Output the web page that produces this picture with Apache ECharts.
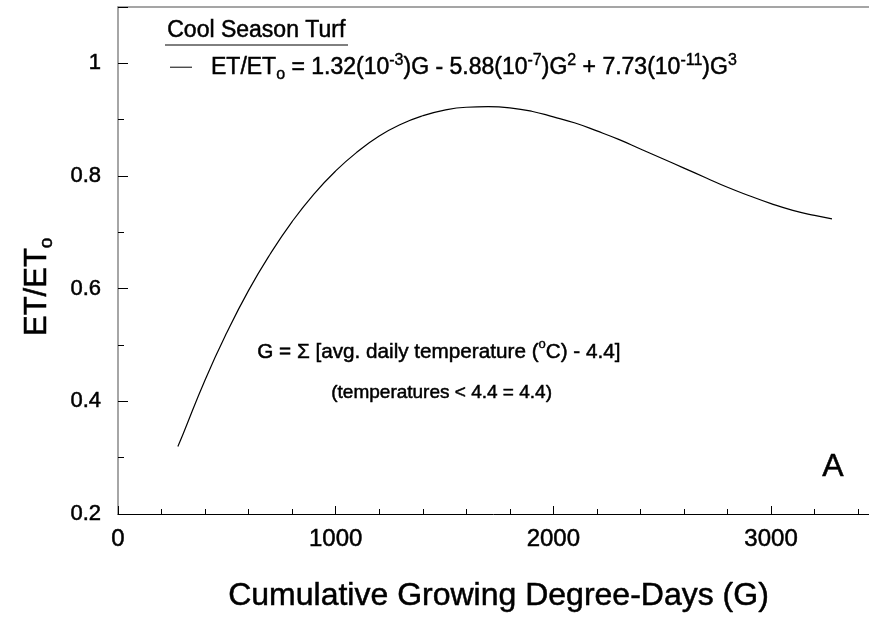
<!DOCTYPE html>
<html>
<head>
<meta charset="utf-8">
<script src="https://cdn.jsdelivr.net/npm/echarts@6/dist/echarts.min.js"></script>
<style>
html,body{margin:0;padding:0;background:#fff;}
#chart{width:869px;height:622px;}
</style>
</head>
<body>
<div id="chart"></div>
<script>
// Cumulative growing degree-days (G)
var gddValues = [275, 300, 400, 500, 600, 700, 800, 900, 1000, 1100, 1200, 1300, 1400, 1500, 1600, 1700, 1800, 1900, 2000, 2100, 2200, 2300, 2400, 2500, 2600, 2700, 2800, 2900, 3000, 3100, 3200, 3280];
// ET/ETo
var etRatio = [0.320, 0.343, 0.438, 0.522, 0.597, 0.662, 0.719, 0.768, 0.809, 0.843, 0.871, 0.892, 0.907, 0.917, 0.922, 0.923, 0.921, 0.915, 0.905, 0.894, 0.880, 0.865, 0.848, 0.831, 0.814, 0.797, 0.780, 0.765, 0.751, 0.739, 0.730, 0.724];
var seriesName = 'Cool Season Turf';
var xTicks = [0, 1000, 2000, 3000];
var yTicks = [0.2, 0.4, 0.6, 0.8, 1];

var FONT = 'Liberation Sans, Arial, Helvetica, sans-serif';
var points = gddValues.map(function (g, i) { return [g, etRatio[i]]; });
// outline used to thicken graphic text strokes
var thick = {stroke: '#000', lineWidth: 0.5};

var chart = echarts.init(document.getElementById('chart'), null, {renderer: 'canvas'});
var option = {
  backgroundColor: '#fff',
  animation: false,
  textStyle: {fontFamily: FONT, color: '#000'},
  grid: {left: 118, top: 7, right: 0, bottom: 108, containLabel: false},
  xAxis: [{
    type: 'value', min: 0, max: 3450, interval: 1000,
    axisLine: {show: true, onZero: false, lineStyle: {color: '#000', width: 1}},
    axisTick: {show: true, inside: true, length: 8, lineStyle: {color: '#000', width: 1}},
    minorTick: {show: true, splitNumber: 5, length: 5, lineStyle: {color: '#000', width: 1}},
    splitLine: {show: false},
    axisLabel: {show: true, color: '#000', fontFamily: FONT, fontSize: 24, margin: 13, showMaxLabel: false,
      textBorderColor: '#000', textBorderWidth: 0.5,
      formatter: function (v) { return xTicks.indexOf(v) >= 0 ? String(v) : ''; }},
    name: 'Cumulative Growing Degree-Days (G)',
    nameLocation: 'middle', nameGap: 66,
    nameTextStyle: {fontFamily: FONT, fontSize: 32, color: '#000', textBorderColor: '#000', textBorderWidth: 0.5, padding: [0, 0, 0, 10]}
  }, {
    type: 'value', position: 'top', min: 0, max: 3450,
    axisLine: {show: true, onZero: false, lineStyle: {color: '#888', width: 1.5}},
    axisTick: {show: false}, axisLabel: {show: false}, splitLine: {show: false}
  }],
  yAxis: {
    type: 'value', min: 0.2, max: 1.1, interval: 0.2,
    axisLine: {show: true, onZero: false, lineStyle: {color: '#888', width: 1.5}},
    axisTick: {show: true, inside: true, length: 10, lineStyle: {color: '#000', width: 1}},
    minorTick: {show: true, splitNumber: 2, length: 6, lineStyle: {color: '#000', width: 1}},
    splitLine: {show: false},
    axisLabel: {show: true, color: '#000', fontFamily: FONT, fontSize: 22, margin: 17, showMaxLabel: false,
      textBorderColor: '#000', textBorderWidth: 0.5,
      formatter: function (v) {
        for (var i = 0; i < yTicks.length; i++) { if (Math.abs(yTicks[i] - v) < 1e-6) return String(yTicks[i]); }
        return '';
      }}
  },
  legend: {
    show: true, left: 170, top: 52, padding: 0,
    icon: 'rect', itemWidth: 22, itemHeight: 1,
    data: [seriesName],
    formatter: function () {
      return '{pad| }{n|ET/ET}{sub|o}{n| = 1.32(10}{sup|-3}{n|)G - 5.88(10}{sup|-7}{n|)G}{sup|2}{n| + 7.73(10}{sup|-11}{n|)G}{sup|3}';
    },
    textStyle: {
      fontFamily: FONT, color: '#000', fontSize: 23,
      rich: {
        pad: {width: 14, fontSize: 23, lineHeight: 30},
        n: {fontFamily: FONT, fontSize: 23, lineHeight: 30, color: '#000', verticalAlign: 'middle', textBorderColor: '#000', textBorderWidth: 0.5},
        sup: {fontFamily: FONT, fontSize: 16, lineHeight: 15, color: '#000', verticalAlign: 'top', textBorderColor: '#000', textBorderWidth: 0.4},
        sub: {fontFamily: FONT, fontSize: 16, lineHeight: 13, color: '#000', verticalAlign: 'bottom', textBorderColor: '#000', textBorderWidth: 0.4}
      }
    }
  },
  graphic: [
    {type: 'text', left: 167, top: 19, style: Object.assign({text: 'Cool Season Turf', fontFamily: FONT, fontSize: 23, fill: '#000'}, thick)},
    {type: 'line', shape: {x1: 165, y1: 45, x2: 348, y2: 45}, style: {stroke: '#000', lineWidth: 1}},
    {type: 'text', left: 257, top: 338, style: {
      text: '{n|G = Σ [avg. daily temperature (}{sup|o}{n|C) - 4.4]}',
      rich: {
        n: Object.assign({fontFamily: FONT, fontSize: 20.7, lineHeight: 28, fill: '#000', verticalAlign: 'middle'}, thick),
        sup: {fontFamily: FONT, fontSize: 13, lineHeight: 13, fill: '#000', verticalAlign: 'top', stroke: '#000', lineWidth: 0.4}
      }}},
    {type: 'text', left: 331, top: 383, style: Object.assign({text: '(temperatures < 4.4 = 4.4)', fontFamily: FONT, fontSize: 19, fill: '#000'}, thick)},
    {type: 'text', left: 822, top: 451, style: Object.assign({text: 'A', fontFamily: FONT, fontSize: 32, fill: '#000'}, thick)},
    {type: 'text', x: 18, y: 336, rotation: Math.PI / 2, style: {
      text: '{n|ET/ET}{sub|o}',
      rich: {
        n: Object.assign({fontFamily: FONT, fontSize: 31, lineHeight: 38, fill: '#000', verticalAlign: 'middle'}, thick),
        sub: Object.assign({fontFamily: FONT, fontSize: 19, lineHeight: 18, fill: '#000', verticalAlign: 'bottom'}, thick)
      }}}
  ],
  series: [{
    name: seriesName, type: 'line', data: points, smooth: true,
    showSymbol: false, symbol: 'none',
    lineStyle: {color: '#000', width: 1.2},
    itemStyle: {color: '#000'}
  }]
};
chart.setOption(option);
</script>
</body>
</html>
